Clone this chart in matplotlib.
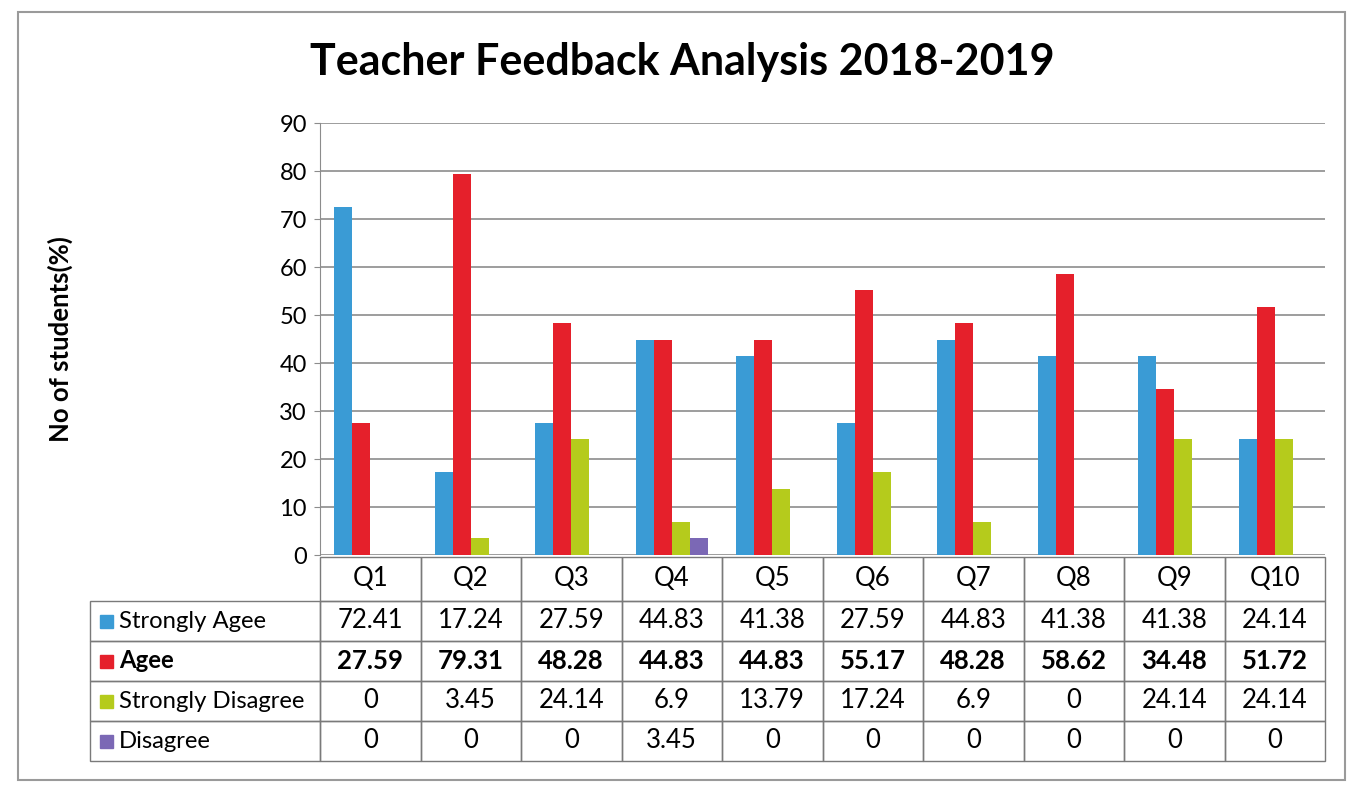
import numpy as np
import matplotlib.pyplot as plt
from matplotlib.patches import Rectangle

plt.rcParams['font.family'] = ['Lato', 'DejaVu Sans']

questions = ['Q1', 'Q2', 'Q3', 'Q4', 'Q5', 'Q6', 'Q7', 'Q8', 'Q9', 'Q10']
series = ['Strongly Agee', 'Agee', 'Strongly Disagree', 'Disagree']
strongly_agree = [72.41, 17.24, 27.59, 44.83, 41.38, 27.59, 44.83, 41.38, 41.38, 24.14]
agree = [27.59, 79.31, 48.28, 44.83, 44.83, 55.17, 48.28, 58.62, 34.48, 51.72]
strongly_disagree = [0, 3.45, 24.14, 6.9, 13.79, 17.24, 6.9, 0, 24.14, 24.14]
disagree = [0, 0, 0, 3.45, 0, 0, 0, 0, 0, 0]
colors = ['#3A9BD5', '#E5202B', '#B5CB1C', '#7B68B5']

W, H = 1357, 790
fig = plt.figure(figsize=(W / 100, H / 100), dpi=100)

# plot area in pixels
px_l, px_r, px_t, px_b = 320, 1325, 123, 555
ax = fig.add_axes([px_l / W, 1 - px_b / H, (px_r - px_l) / W, (px_b - px_t) / H])
ax_w, ax_h = px_r - px_l, px_b - px_t

vals = [strongly_agree, agree, strongly_disagree, disagree]
x = np.arange(len(questions))
bw = 0.18
for i, (v, c) in enumerate(zip(vals, colors)):
    ax.bar(x + (i - 1.5) * bw, v, bw, color=c, zorder=3)

ax.set_xlim(-0.5, len(questions) - 0.5)
ax.set_ylim(0, 90)
ax.set_yticks(range(0, 91, 10))
ax.yaxis.grid(True, color='#8c8c8c', lw=1.2)
ax.set_axisbelow(True)
ax.set_xticks([])
for s in ['top', 'right', 'bottom']:
    ax.spines[s].set_visible(False)
ax.spines['left'].set_color('#8c8c8c')
ax.tick_params(axis='y', length=4.5, color='#8c8c8c', labelsize=17, pad=5)
ax.set_ylabel('No of students(%)', fontsize=18.5, fontweight='bold')
ax.yaxis.set_label_coords((73 - px_l) / ax_w, 0.5)

# data table under the bars, drawn cell by cell in axes coords
tab_l, tab_t, head_h, row_h = 90, 557, 44, 40
n = len(questions)
tl = (tab_l - px_l) / ax_w
edge = dict(fill=False, edgecolor='#7a7a7a', lw=1.0, transform=ax.transAxes, clip_on=False)
txt = dict(transform=ax.transAxes, va='center')

def ypix(p):
    return -(p - px_b) / ax_h

y0, y1 = ypix(tab_t), ypix(tab_t + head_h)
for j, q in enumerate(questions):
    ax.add_patch(Rectangle((j / n, y1), 1 / n, y0 - y1, **edge))
    ax.text((j + 0.5) / n, (y0 + y1) / 2, q, ha='center', fontsize=18.5, **txt)

for i, (name, row, c) in enumerate(zip(series, vals, colors)):
    top = tab_t + head_h + row_h * i
    ya, yb = ypix(top), ypix(top + row_h)
    ym = (ya + yb) / 2
    fw = 'bold' if name == 'Agee' else 'normal'
    ax.add_patch(Rectangle((tl, yb), -tl, ya - yb, **edge))
    sz = 13
    ax.add_patch(Rectangle(((100 - px_l) / ax_w, ypix(top + row_h / 2 + sz / 2)),
                           sz / ax_w, sz / ax_h, color=c,
                           transform=ax.transAxes, clip_on=False))
    ax.text((119 - px_l) / ax_w, ym, name, ha='left', fontweight=fw,
            fontsize=17.2, **txt)
    for j, v in enumerate(row):
        ax.add_patch(Rectangle((j / n, yb), 1 / n, ya - yb, **edge))
        ax.text((j + 0.5) / n, ym, f'{v:g}', ha='center', fontweight=fw,
                fontsize=18.5, **txt)

fig.text(0.503, 0.922, 'Teacher Feedback Analysis 2018-2019', fontsize=31,
         fontweight='bold', ha='center', va='center')

fig.patches.append(Rectangle((18 / W, 10 / H), (1345 - 18) / W, (780 - 12) / H,
                             transform=fig.transFigure, fill=False,
                             edgecolor='#9a9a9a', lw=1.5))

fig.savefig('out.png', dpi=100)
